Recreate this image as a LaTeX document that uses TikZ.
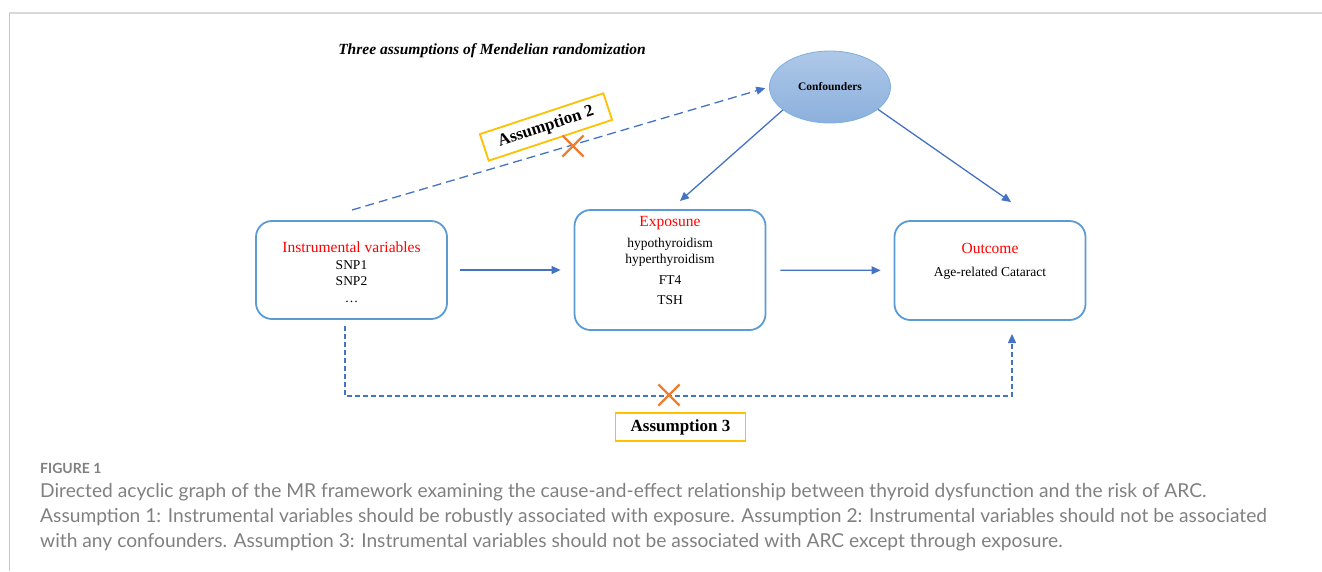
\documentclass[tikz,border=0pt]{standalone}
\usepackage{fontspec}
\setmainfont{Liberation Serif}
\newfontfamily\capfont{Lato}
\usetikzlibrary{arrows.meta,shapes.geometric,shapes.misc}

\definecolor{boxblue}{HTML}{5B9BD5}
\definecolor{arrblue}{HTML}{4472C4}
\definecolor{asmgold}{HTML}{FFC000}
\definecolor{crossorange}{HTML}{ED7D31}
\definecolor{capgrey}{HTML}{808080}
\definecolor{cloudtop}{HTML}{AEC8E8}
\definecolor{cloudbot}{HTML}{8CB0DC}

\begin{document}
\begin{tikzpicture}[x=1pt,y=-1pt]
			\tikzstyle{panel} = [
				draw = boxblue, line width = 1.8pt, rounded corners = 16pt,
				minimum width = 191pt, inner sep = 0pt
			]
			\tikzstyle{paneltxt} = [align = center, font = \fontsize{13.5}{16.5}\selectfont, inner sep = 0pt]
			\tikzstyle{cloud} = [
				ellipse, draw = boxblue!80, line width = 0.8pt,
				top color = cloudtop, bottom color = cloudbot,
				minimum width = 121pt, minimum height = 72pt, inner sep = 0pt,
				font = \bfseries\fontsize{11.5}{13}\selectfont
			]
			\tikzstyle{asmbox} = [
				draw = asmgold, line width = 1.8pt, fill = white,
				minimum width = 130pt, minimum height = 28pt, inner sep = 0pt,
				font = \bfseries\fontsize{17}{19}\selectfont
			]
			\tikzstyle{nope} = [
				cross out, draw = crossorange, line width = 2.2pt,
				minimum size = 19pt, inner sep = 0pt
			]
			\tikzstyle{link} = [-{Triangle[length=9pt,width=8pt]}, draw = arrblue, line width = 1.3pt]
			\tikzstyle{dlink} = [link, dash pattern = on 9pt off 5pt]
			\tikzstyle{dlinkb} = [link, dash pattern = on 5pt off 3pt]
			\tikzstyle{captxt} = [anchor = base west, inner sep = 0pt, text = capgrey, font = \capfont\fontsize{19.2}{22}\selectfont]

			\useasboundingbox (0,0) rectangle (1322,571);
			% frame of the figure page
			\draw[gray!30, line width = 2pt] (9,13) -- (1322,13);
			\draw[gray!45, line width = 0.8pt] (9,13) -- (9,571);

			\node[font = \bfseries\itshape\fontsize{15.5}{18}\selectfont] (title) at (492,51) {Three assumptions of Mendelian randomization};

			% the three boxes
			\node[panel, minimum height = 98pt] (iv) at (351.5,270) {};
			\node[panel, minimum height = 120pt] (expo) at (670,270) {};
			\node[panel, minimum height = 99pt] (outc) at (990,270.5) {};
			\node[cloud] (conf) at (830,87) {Confounders};

			\node[paneltxt] (ivtxt) at (351.5,272) {{\color{red}\fontsize{15.5}{17}\selectfont Instrumental variables}\\SNP1\\SNP2\\\dots};
			\node[paneltxt] (expotxt) at (670,260.5) {{\color{red}\fontsize{15.5}{17}\selectfont Exposune}\\[4pt]hypothyroidism\\hyperthyroidism\\[4pt]FT4\\[4pt]TSH};
			\node[paneltxt] (outctxt) at (990,261.5) {{\color{red}\fontsize{15.5}{17}\selectfont Outcome}\\[7pt]Age-related Cataract};

			% loose ends of the arrows
			\coordinate (a2s) at (352,210);
			\coordinate (ce) at (680,201);
			\coordinate (co) at (1011,202);
			\coordinate (a3s) at (345,326);
			\coordinate (a3e) at (1012,334);

			\draw[link, shorten <= 12pt, shorten >= 13pt] (iv) -- (expo);
			\draw[link, shorten <= 14pt, shorten >= 13pt] (expo) -- (outc);
			\draw[link] (conf.206) -- (ce);
			\draw[link] (conf.-25) -- (co);
			\draw[dlink, shorten >= 4pt] (a2s) -- (conf.west);
			\draw[dlinkb] (a3s) -- ++(0,70) -| (a3e);

			% assumptions that are violated
			\node[asmbox, rotate = 18.3] (asm2) at (546,127) {Assumption 2};
			\node[nope] (x2) at (573,146) {};
			\node[asmbox] (asm3) at (680.5,427) {Assumption 3};
			\node[nope] (x3) at (669,395) {};

			% caption
			\node[captxt, font = \capfont\bfseries\fontsize{14}{16}\selectfont] (capfig) at (40,473) {FIGURE 1};
			\node[captxt] (cap1) at (40,497) {Directed acyclic graph of the MR framework examining the cause-and-effect relationship between thyroid dysfunction and the risk of ARC.};
			\node[captxt] (cap2) at (40,522) {Assumption 1: Instrumental variables should be robustly associated with exposure. Assumption 2: Instrumental variables should not be associated};
			\node[captxt] (cap3) at (40,547) {with any confounders. Assumption 3: Instrumental variables should not be associated with ARC except through exposure.};
		\end{tikzpicture}
\end{document}
